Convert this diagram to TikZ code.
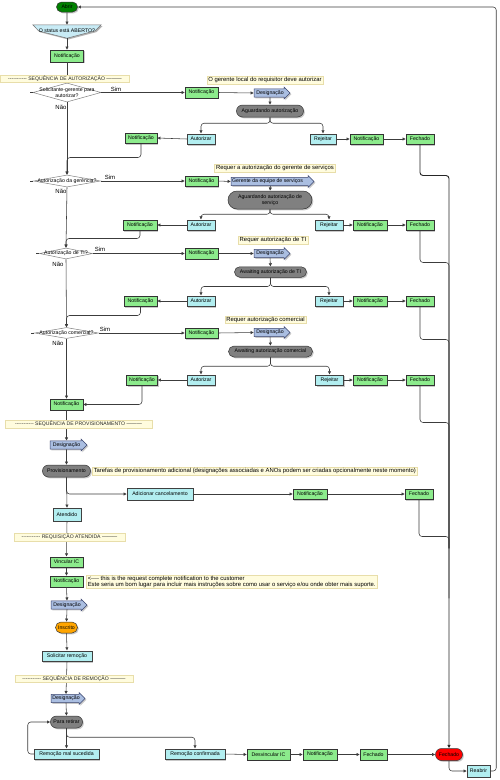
\documentclass[tikz,border=0pt]{standalone}
\usepackage{fontspec}
\newfontfamily\lf{Liberation Sans}
\usetikzlibrary{shapes.misc,shapes.arrows,shapes.geometric,shadows,arrows.meta,calc}
\definecolor{gfill}{RGB}{140,235,140}
\definecolor{cfill}{RGB}{178,238,240}
\definecolor{rfill}{RGB}{128,128,128}
\definecolor{dfill}{RGB}{170,190,225}
\definecolor{ddraw}{RGB}{60,70,110}
\definecolor{nfill}{RGB}{255,252,222}
\definecolor{ndraw}{RGB}{232,222,170}
\definecolor{abfill}{RGB}{0,128,0}
\definecolor{orfill}{RGB}{255,165,0}
\definecolor{redfill}{RGB}{255,0,0}
\definecolor{stfill}{RGB}{200,235,245}
\definecolor{lncol}{RGB}{60,60,60}
\tikzset{
  shd/.style={drop shadow={shadow xshift=1.3pt,shadow yshift=-1.3pt,fill=black!35,opacity=0.6}},
  base/.style={font=\lf\fontsize{5.2}{5.8}\selectfont, inner sep=0.5pt, line width=0.5pt, align=center, text=black},
  gbox/.style={base, rectangle, draw=black!80, fill=gfill, minimum height=10.5, shd},
  cbox/.style={base, rectangle, draw=black!75, fill=cfill, minimum height=10.5, shd},
  rbox/.style={base, rounded rectangle, draw=black!80, fill=rfill, minimum height=11.5, shd},
  desg/.style={base, single arrow, draw=ddraw, fill=dfill, minimum width=12, single arrow head extend=1.5pt, minimum height=36, shd},
  note/.style={base, font=\lf\fontsize{5.9}{6.6}\selectfont, rectangle, draw=ndraw, fill=nfill, minimum height=7.5, inner xsep=1.5pt, inner ysep=0.6pt},
  banner/.style={note, font=\lf\fontsize{5.1}{5.6}\selectfont, text=black!85},
  dec/.style={base, diamond, draw=black!50, fill=white, inner sep=0pt},
  lab/.style={font=\lf\fontsize{6}{6}\selectfont, inner sep=0pt},
  ln/.style={draw=lncol, line width=0.55pt, rounded corners=3pt},
  arr/.style={ln, -{Latex[length=3.2pt,width=3.4pt]}},
  trunk/.style={draw=black!85, line width=0.9pt, rounded corners=3pt},
}
\begin{document}
\begin{tikzpicture}[x=1pt,y=-1pt]
\useasboundingbox[fill=white] (0,0) rectangle (500,780);

% ---------- start
\node[base, rounded rectangle, draw=black!80, fill=abfill, minimum width=22, minimum height=10, shd] (ab) at (67,7) {Abrir};
\node[minimum width=68, minimum height=13, inner sep=0] (st) at (67,31.5) {};
\fill[black!30] ($(st.north west)+(1.3,1.3)$) -- ($(st.north east)+(1.3,1.3)$) -- ++(-6,6) -- ($(st.south)+(1.3,1.3)$) -- ($(st.west)+(7.3,0.8)$) -- cycle;
\draw[black!55, fill=stfill, line width=0.5pt] (st.north west) -- (st.north east) -- ++(-6,6) -- (st.south) -- ($(st.west)+(6,-0.5)$) -- cycle;
\node[base] at (67,31) {O status está ABERTO?};
\node[gbox, minimum width=33, minimum height=12] (n0) at (67,56) {Notificação};

% ---------- decision 1
\node[dec, minimum width=68, minimum height=19] (d1) at (67,92.5) {};
\node[base] at (d1) {Solicitante-gerente para\\autorizar?};
\node[gbox, minimum width=33] (n1) at (201.5,92.5) {Notificação};
\node[desg] (des1) at (270,93) {Designação};
\node[rbox, minimum width=68, minimum height=12] (ag1) at (270,111) {Aguardando autorização};
\node[cbox, minimum width=28] (au1) at (201,139) {Autorizar};
\node[cbox, minimum width=26] (rj1) at (323,139) {Rejeitar};
\node[gbox, minimum width=33] (nr1) at (366.5,139) {Notificação};
\node[gbox, minimum width=28] (fc1) at (420,139) {Fechado};
\node[gbox, minimum width=32] (nl1) at (141,138) {Notificação};

% ---------- decision 2
\node[dec, minimum width=67, minimum height=12] (d2) at (67,181) {};
\node[base] at (d2) {Autorização da gerência?};
\node[gbox, minimum width=33] (n2) at (201.5,181) {Notificação};
\node[desg, minimum height=83] (des2) at (270.5,181.5) {Gerente da equipe de serviços\hspace{6pt}};
\node[rbox, minimum width=85, minimum height=18] (ag2) at (270,200) {Aguardando autorização de\\serviço};
\node[cbox, minimum width=28] (au2) at (201,225) {Autorizar};
\node[cbox, minimum width=28] (rj2) at (329,225) {Rejeitar};
\node[gbox, minimum width=34] (nr2) at (370,225) {Notificação};
\node[gbox, minimum width=28] (fc2) at (420,225) {Fechado};
\node[gbox, minimum width=34] (nl2) at (140,225) {Notificação};

% ---------- decision 3
\node[dec, minimum width=53, minimum height=11] (d3) at (66,253.5) {};
\node[base] at (d3) {Autorização de TI?};
\node[gbox, minimum width=33] (n3) at (201.5,253.5) {Notificação};
\node[desg] (des3) at (270,253.5) {Designação};
\node[rbox, minimum width=73, minimum height=10.5] (ag3) at (270.5,272) {Awaiting autorização de TI};
\node[cbox, minimum width=28] (au3) at (201,301) {Autorizar};
\node[cbox, minimum width=28] (rj3) at (329,301) {Rejeitar};
\node[gbox, minimum width=34] (nr3) at (370,301) {Notificação};
\node[gbox, minimum width=28] (fc3) at (420,301) {Fechado};
\node[gbox, minimum width=33] (nl3) at (140.5,301) {Notificação};

% ---------- decision 4
\node[dec, minimum width=64, minimum height=11] (d4) at (66.5,333) {};
\node[base] at (d4) {Autorização comercial?};
\node[gbox, minimum width=33] (n4) at (201.5,333) {Notificação};
\node[desg] (des4) at (270,332.5) {Designação};
\node[rbox, minimum width=85, minimum height=11] (ag4) at (270.5,351.5) {Awaiting autorização comercial};
\node[cbox, minimum width=28] (au4) at (201,380) {Autorizar};
\node[cbox, minimum width=28] (rj4) at (329.5,380) {Rejeitar};
\node[gbox, minimum width=34] (nr4) at (370,380) {Notificação};
\node[gbox, minimum width=28] (fc4) at (420,380) {Fechado};
\node[gbox, minimum width=31] (nl4) at (142,380) {Notificação};

\node[gbox, minimum width=33, minimum height=11] (nM) at (66.5,404.5) {Notificação};

% ---------- provisioning
\node[desg, minimum height=37] (desP) at (66.5,445) {Designação};
\node[rbox, minimum width=49, minimum height=12] (prov) at (66.5,471) {Provisionamento};
\node[cbox, minimum width=66, minimum height=12] (adc) at (160,494) {Adicionar cancelamento};
\node[gbox, minimum width=34] (np) at (310,494) {Notificação};
\node[gbox, minimum width=28] (fp) at (419,494) {Fechado};
\node[cbox, minimum width=28, minimum height=13] (aten) at (67,514.5) {Atendido};

% ---------- fulfilled
\node[gbox, minimum width=33] (vinc) at (66.5,562) {Vincular IC};
\node[gbox, minimum width=33, minimum height=11] (nfin) at (66.5,581.5) {Notificação};
\node[desg] (desF) at (67,605) {Designação};
\node[base, rounded rectangle, draw=black!80, fill=orfill, minimum width=23, minimum height=11, shd] (insc) at (66.5,627.5) {Inscrito};
\node[cbox, minimum width=50] (solr) at (67,656) {Solicitar remoção};

% ---------- removal
\node[desg, minimum height=34] (desR) at (66,698.5) {Designação};
\node[rbox, minimum width=33, minimum height=12] (para) at (66.5,722) {Para retirar};
\node[cbox, minimum width=65] (mal) at (66.5,754) {Remoção mal sucedida};
\node[cbox, minimum width=60] (conf) at (195,754) {Remoção confirmada};
\node[gbox, minimum width=43] (desv) at (268.5,754.5) {Desvincular IC};
\node[gbox, minimum width=34] (nf) at (320,754.5) {Notificação};
\node[gbox, minimum width=27] (fcl) at (373.5,754.5) {Fechado};
\node[base, rounded rectangle, draw=black!80, fill=redfill, minimum width=28, minimum height=12, shd] (fred) at (449,754.5) {Fechado};
\node[cbox, minimum width=23, minimum height=12] (reab) at (478.5,771) {Reabrir};

% ---------- connectors
\draw[arr] (ab) -- (st.north);
\draw[arr] (st.south) -- (n0.north);
\draw[arr] (n0.south) -- (d1.north);
\draw[arr] (d1.south) -- (d2.north);
\draw[arr] (d2.south) -- (d3.north);
\draw[arr] (d3.south) -- (d4.north);
\draw[arr] (d4.south) -- (nM.north);
\foreach \d in {d1,d2,d3,d4} \draw[ln] (\d.west) -- ++(-3,0);

\draw[arr] (d1.east) -- (n1.west);
\draw[arr] (n1.east) -- (des1.west);
\draw[arr] (des1.south) -- (ag1.north);
\draw[arr] (ag1.south) -- ++(0,6) -| (au1.north);
\draw[arr] (ag1.south) -- ++(0,6) -| (rj1.north);
\draw[arr] (rj1.east) -- (nr1.west);
\draw[arr] (nr1.east) -- (fc1.west);
\draw[arr] (au1.west) -- (nl1.east);
\draw[arr] (nl1.south) -- ++(0,14) -| (d2.north);

\draw[arr] (d2.east) -- (n2.west);
\draw[arr] (n2.east) -- (des2.west);
\draw[arr] (des2.south) -- (ag2.north);
\draw[arr] (ag2.south) -- ++(0,5) -| (au2.north);
\draw[arr] (ag2.south) -- ++(0,5) -| (rj2.north);
\draw[arr] (rj2.east) -- (nr2.west);
\draw[arr] (nr2.east) -- (fc2.west);
\draw[arr] (au2.west) -- (nl2.east);
\draw[arr] (nl2.south) -- ++(0,8) -| (d3.north);

\draw[arr] (d3.east) -- (n3.west);
\draw[arr] (n3.east) -- (des3.west);
\draw[arr] (des3.south) -- (ag3.north);
\draw[arr] (ag3.south) -- ++(0,9) -| (au3.north);
\draw[arr] (ag3.south) -- ++(0,9) -| (rj3.north);
\draw[arr] (rj3.east) -- (nr3.west);
\draw[arr] (nr3.east) -- (fc3.west);
\draw[arr] (au3.west) -- (nl3.east);
\draw[arr] (nl3.south) -- ++(0,9) -| (d4.north);

\draw[arr] (d4.east) -- (n4.west);
\draw[arr] (n4.east) -- (des4.west);
\draw[arr] (des4.south) -- (ag4.north);
\draw[arr] (ag4.south) -- ++(0,9) -| (au4.north);
\draw[arr] (ag4.south) -- ++(0,9) -| (rj4.north);
\draw[arr] (rj4.east) -- (nr4.west);
\draw[arr] (nr4.east) -- (fc4.west);
\draw[arr] (au4.west) -- (nl4.east);
\draw[arr] (nl4.south) |- (nM.east);

\draw[arr] (nM.south) -- (desP.north);
\draw[arr] (desP.south) -- (prov.north);
\draw[arr] (prov.south) |- (adc.west);
\draw[arr] (prov.south) -- (aten.north);
\draw[arr] (adc.east) -- (np.west);
\draw[arr] (np.east) -- (fp.west);

\draw[arr] (aten.south) -- (vinc.north);
\draw[arr] (vinc.south) -- (nfin.north);
\draw[arr] (nfin.south) -- (desF.north);
\draw[arr] (desF.south) -- (insc.north);
\draw[arr] (insc.south) -- (solr.north);
\draw[arr] (solr.south) -- (desR.north);
\draw[arr] (desR.south) -- (para.north);
\draw[arr] (para.south) -- (mal.north);
\draw[arr] (para.south) -- ++(0,9) -| (conf.north);
\draw[arr] (mal.west) -- ++(-6,0) |- (para.west);
\draw[arr] (conf.east) -- (desv.west);
\draw[arr] (desv.east) -- (nf.west);
\draw[arr] (nf.east) -- (fcl.west);
\draw[arr] (fcl.east) -- (fred.west);

% trunk of closed states
\draw[trunk, -{Latex[length=3.5pt,width=3.8pt]}] (fc1.south) -- ++(0,31) -| (fred.north);
\draw[ln] (fc2.south) -- ++(0,32) -| ($(fred.north)+(0,-200)$);
\draw[ln] (fc3.south) -- ++(0,33) -| ($(fred.north)+(0,-200)$);
\draw[ln] (fc4.south) -- ++(0,37) -| ($(fred.north)+(0,-200)$);
\draw[ln] (fp.south) -- ++(0,37) -| ($(fred.north)+(0,-150)$);

\draw[arr] (fred.south) |- (reab.west);
\draw[arr] (reab.east) -- ++(6,0) |- (ab.east);

% ---------- labels
\node[lab] (s1) at (116,89) {Sim};
\node[lab] (x1) at (61,107) {Não};
\node[lab] (s2) at (110,177) {Sim};
\node[lab] (x2) at (61,191) {Não};
\node[lab] (s3) at (100,249) {Sim};
\node[lab] (x3) at (58,264) {Não};
\node[lab] (s4) at (105,329) {Sim};
\node[lab] (x4) at (58,343) {Não};

% ---------- notes and banners
\node[banner, minimum width=129] (bA) at (65,78.5) {-{}-{}-{}-{}-{}-{}-{}-{}-{}-{}- SEQUÊNCIA DE AUTORIZAÇÃO ———};
\node[note] (tA) at (265,80) {O gerente local do requisitor deve autorizar};
\node[note] (tB) at (275,168) {Requer a autorização do gerente de serviços};
\node[note] (tC) at (273,240) {Requer autorização de TI};
\node[note] (tD) at (265.5,319.5) {Requer autorização comercial};
\node[banner, minimum width=147] (bP) at (78.5,424) {-{}-{}-{}-{}-{}-{}-{}-{}-{}-{}- SEQUÊNCIA DE PROVISIONAMENTO ———};
\node[note, anchor=west] (tP) at (92,471) {Tarefas de provisionamento adicional (designações associadas e ANOs podem ser criadas opcionalmente neste momento)};
\node[note, align=left, anchor=west] (tF) at (86,582) {<-{}-{}-{}- this is the request complete notification to the customer\\Este seria um bom lugar para incluir mais instruções sobre como usar o serviço e/ou onde obter mais suporte.};
\node[banner, minimum width=111] (bR) at (69.5,537) {-{}-{}-{}-{}-{}-{}-{}-{}-{}-{}- REQUISIÇÃO ATENDIDA ———};
\node[banner, minimum width=118] (bRm) at (74,678.5) {-{}-{}-{}-{}-{}-{}-{}-{}-{}-{}- SEQUÊNCIA DE REMOÇÃO ———};
\end{tikzpicture}
\end{document}
